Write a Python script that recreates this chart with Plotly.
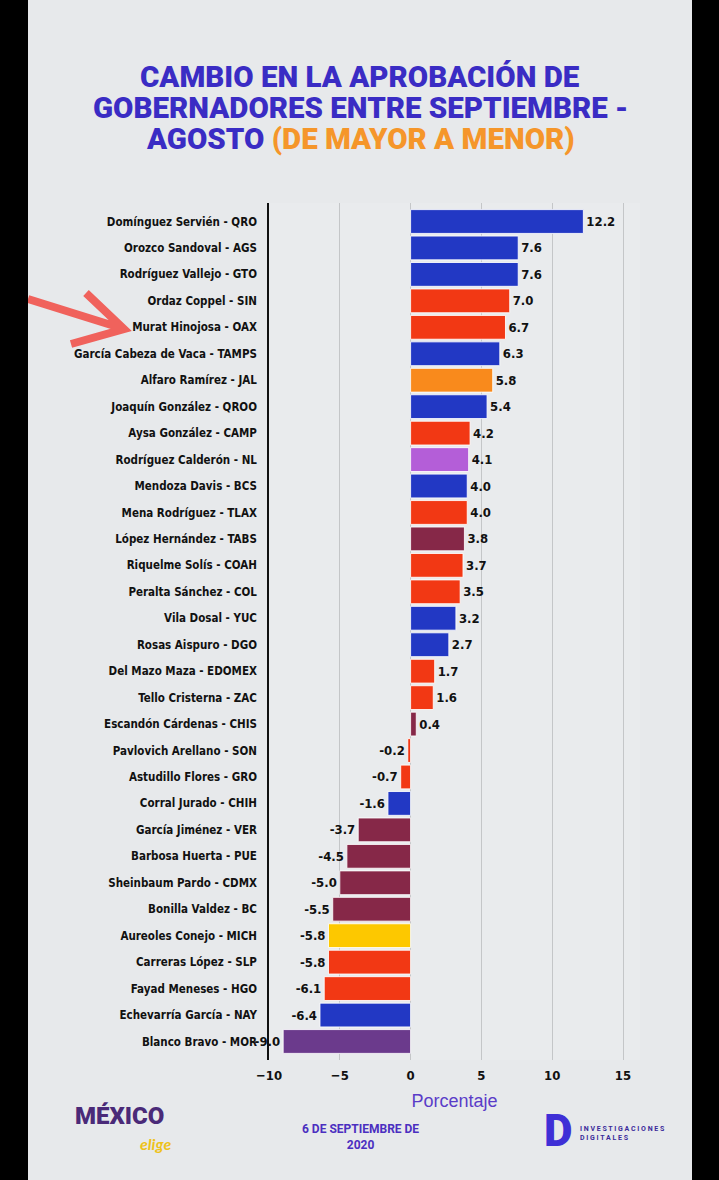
import plotly.graph_objects as go

# Governors, change in approval (Sept - Aug), party colour per row
gobernadores = [
    "Domínguez Servién - QRO", "Orozco Sandoval - AGS", "Rodríguez Vallejo - GTO",
    "Ordaz Coppel - SIN", "Murat Hinojosa - OAX", "García Cabeza de Vaca - TAMPS",
    "Alfaro Ramírez - JAL", "Joaquín González - QROO", "Aysa González - CAMP",
    "Rodríguez Calderón - NL", "Mendoza Davis - BCS", "Mena Rodríguez - TLAX",
    "López Hernández - TABS", "Riquelme Solís - COAH", "Peralta Sánchez - COL",
    "Vila Dosal - YUC", "Rosas Aispuro - DGO", "Del Mazo Maza - EDOMEX",
    "Tello Cristerna - ZAC", "Escandón Cárdenas - CHIS", "Pavlovich Arellano - SON",
    "Astudillo Flores - GRO", "Corral Jurado - CHIH", "García Jiménez - VER",
    "Barbosa Huerta - PUE", "Sheinbaum Pardo - CDMX", "Bonilla Valdez - BC",
    "Aureoles Conejo - MICH", "Carreras López - SLP", "Fayad Meneses - HGO",
    "Echevarría García - NAY", "Blanco Bravo - MOR",
]
cambio = [12.2, 7.6, 7.6, 7.0, 6.7, 6.3, 5.8, 5.4, 4.2, 4.1, 4.0, 4.0, 3.8, 3.7, 3.5, 3.2,
          2.7, 1.7, 1.6, 0.4, -0.2, -0.7, -1.6, -3.7, -4.5, -5.0, -5.5, -5.8, -5.8, -6.1,
          -6.4, -9.0]
partido = ["PAN", "PAN", "PAN", "PRI", "PRI", "PAN", "MC", "PAN", "PRI", "IND", "PAN", "PRI",
           "MORENA", "PRI", "PRI", "PAN", "PAN", "PRI", "PRI", "MORENA", "PRI", "PRI", "PAN",
           "MORENA", "MORENA", "MORENA", "MORENA", "PRD", "PRI", "PRI", "PAN", "PES"]
tick_vals = [-10, -5, 0, 5, 10, 15]

colores_partido = {
    "PAN": "#2238c4", "PRI": "#f23814", "MC": "#f98a1c", "IND": "#b45ed8",
    "MORENA": "#862848", "PRD": "#fdc800", "PES": "#6b3a8c",
}

W, H = 719, 1180
L, R, T, B = 269, 79, 203, 120
PW, PH = W - L - R, H - T - B


def px(x):
    return (x - L) / PW


def py(y):
    return (T + PH - y) / PH


fig = go.Figure(go.Bar(
    x=cambio, y=gobernadores, orientation="h",
    marker=dict(color=[colores_partido[p] for p in partido],
                line=dict(color="rgba(255,255,255,0.85)", width=1)),
    text=[f"{v:.1f}" for v in cambio], textposition="outside", cliponaxis=False,
    textfont=dict(family="DejaVu Sans Condensed, DejaVu Sans", size=13, color="#111", weight="bold"),
    width=0.9,
))

fig.update_layout(
    width=W, height=H,
    margin=dict(l=L, r=R, t=T, b=B),
    paper_bgcolor="#e7e9eb", plot_bgcolor="#e9ebed",
    showlegend=False,
    xaxis=dict(range=[-10, 16.2], tickvals=tick_vals, showgrid=True, gridcolor="#c4c6c8",
               zeroline=False, ticks="", ticklabelstandoff=6,
               tickfont=dict(family="DejaVu Sans Condensed, DejaVu Sans", size=13, color="#111", weight="bold"),
               title=dict(text="Porcentaje", standoff=12,
                          font=dict(family="Liberation Sans, Arial", size=18, color="#5a3cc8"))),
    yaxis=dict(range=[31.7, -0.7], showline=True, linecolor="#111", linewidth=1.5,
               showgrid=False, ticks="", ticklabelstandoff=8,
               tickfont=dict(family="DejaVu Sans Condensed, DejaVu Sans", size=11.5, color="#111", weight="bold")),
)

# title, three centred lines
azul = "#3a2cc4"
naranja = "#f5962a"
titulo = ["CAMBIO EN LA APROBACIÓN DE", "GOBERNADORES ENTRE SEPTIEMBRE -",
          f"AGOSTO <span style='color:{naranja}'>(DE MAYOR A MENOR)</span>"]
for i, linea in enumerate(titulo):
    fig.add_annotation(text=linea, xref="paper", yref="paper", x=px(360), y=py(77 + 31 * i),
                       showarrow=False, xanchor="center", yanchor="middle",
                       font=dict(family="Roboto", size=29.5, color=azul, weight=900))

# red hand-drawn arrow pointing at Murat Hinojosa
fig.add_shape(type="path", xref="paper", yref="paper",
              path=f"M {px(28)},{py(299)} L {px(124)},{py(329)} "
                   f"M {px(86)},{py(293)} L {px(124)},{py(329)} L {px(71)},{py(344)}",
              line=dict(color="#f0625c", width=8))

# footer
fig.add_annotation(text="MÉXICO", xref="paper", yref="paper", x=px(119), y=py(1116),
                   xanchor="center", yanchor="middle", showarrow=False,
                   font=dict(family="Roboto", size=24, color="#4a2a78", weight=900))
fig.add_annotation(text="<i>elige</i>", xref="paper", yref="paper", x=px(155), y=py(1143),
                   xanchor="center", yanchor="middle", showarrow=False,
                   font=dict(family="Lato", size=16, color="#eec21a", weight="bold"))
fig.add_annotation(text="6 DE SEPTIEMBRE DE<br>2020", xref="paper", yref="paper", x=px(360), y=py(1137),
                   xanchor="center", yanchor="middle", showarrow=False, align="center",
                   font=dict(family="Roboto", size=12, color="#4b2fc0", weight="bold"))
fig.add_annotation(text="D", xref="paper", yref="paper", x=px(558), y=py(1131),
                   xanchor="center", yanchor="middle", showarrow=False,
                   font=dict(family="Roboto", size=44, color="#3f2fd6", weight=900))
fig.add_annotation(text="I N V E S T I G A C I O N E S<br>D I G I T A L E S", xref="paper", yref="paper",
                   x=px(578), y=py(1133), xanchor="left", yanchor="middle", showarrow=False, align="left",
                   font=dict(family="Roboto", size=7, color="#3a2a9a", weight="bold"))

# black photo borders
fig.add_shape(type="rect", xref="paper", yref="paper", x0=px(0), x1=px(28), y0=py(H), y1=py(0),
              fillcolor="#000", line=dict(width=0), layer="above")
fig.add_shape(type="rect", xref="paper", yref="paper", x0=px(692), x1=px(W), y0=py(H), y1=py(0),
              fillcolor="#000", line=dict(width=0), layer="above")

fig.write_html("out.html", config={"displayModeBar": False},
               post_script="document.body.style.margin='0';")
